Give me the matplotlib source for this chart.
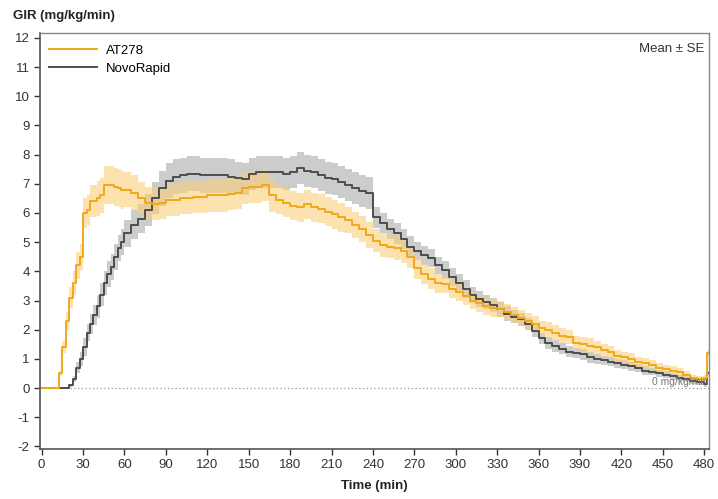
import numpy as np
import matplotlib
matplotlib.use("Agg")
import matplotlib.pyplot as plt

plt.rcParams['font.family'] = ['Liberation Sans', 'DejaVu Sans']
plt.rcParams['axes.unicode_minus'] = False

# time grid (min): 2.5-min steps during the onset, 5-min steps after
time_min = [i * 2.5 for i in range(24)] + list(range(60, 485, 5))

at278_mean = [0, 0, 0, 0, 0, 0.5, 1.4, 2.3, 3.1, 3.6,
              4.2, 4.5, 6.0, 6.1, 6.4, 6.4, 6.5, 6.6, 6.95, 6.95,
              6.95, 6.9, 6.85, 6.8,
              6.8, 6.7, 6.5, 6.35, 6.3, 6.35, 6.45, 6.45,
              6.5, 6.5, 6.55, 6.55, 6.6, 6.6, 6.6, 6.65, 6.7, 6.85,
              6.9, 6.9, 6.95, 6.6, 6.45, 6.35, 6.25, 6.2, 6.3, 6.2,
              6.15, 6.05, 5.95, 5.85, 5.75, 5.6, 5.45, 5.25, 5.05, 4.9,
              4.85, 4.8, 4.7, 4.5, 4.1, 3.9, 3.75, 3.6, 3.55, 3.4,
              3.3, 3.15, 3.0, 2.9, 2.8, 2.75, 2.7, 2.6, 2.5, 2.4,
              2.3, 2.2, 2.05, 2.0, 1.9, 1.8, 1.75, 1.55, 1.5, 1.45,
              1.4, 1.3, 1.25, 1.1, 1.05, 1.0, 0.9, 0.85, 0.8, 0.7,
              0.65, 0.6, 0.55, 0.45, 0.35, 0.3, 0.35]
at278_se = [0, 0, 0, 0, 0, 0.1, 0.2, 0.3, 0.35, 0.4,
            0.45, 0.45, 0.5, 0.5, 0.55, 0.55, 0.6, 0.6, 0.65, 0.65,
            0.65, 0.65, 0.65, 0.65,
            0.6, 0.6, 0.55, 0.55, 0.55, 0.55, 0.55, 0.55,
            0.55, 0.55, 0.55, 0.55, 0.55, 0.55, 0.55, 0.55, 0.55, 0.55,
            0.55, 0.55, 0.55, 0.55, 0.5, 0.5, 0.5, 0.5, 0.5, 0.5,
            0.5, 0.5, 0.5, 0.5, 0.45, 0.45, 0.45, 0.45, 0.4, 0.4,
            0.4, 0.4, 0.4, 0.4, 0.35, 0.35, 0.35, 0.35, 0.3, 0.3,
            0.3, 0.3, 0.3, 0.3, 0.3, 0.3, 0.28, 0.28, 0.28, 0.28,
            0.26, 0.26, 0.25, 0.25, 0.25, 0.25, 0.25, 0.25, 0.25, 0.25,
            0.22, 0.22, 0.2, 0.2, 0.2, 0.2, 0.18, 0.18, 0.16, 0.16,
            0.14, 0.14, 0.12, 0.12, 0.1, 0.1, 0.1]

novo_mean = [0, 0, 0, 0, 0, 0, 0, 0, 0.1, 0.3,
             0.7, 1.0, 1.4, 1.9, 2.2, 2.5, 2.8, 3.2, 3.6, 3.9,
             4.15, 4.5, 4.8, 5.0,
             5.3, 5.6, 5.8, 6.1, 6.5, 6.85, 7.1, 7.25,
             7.3, 7.35, 7.35, 7.3, 7.3, 7.3, 7.3, 7.25, 7.2, 7.15,
             7.35, 7.4, 7.4, 7.4, 7.4, 7.35, 7.4, 7.55, 7.45, 7.4,
             7.3, 7.2, 7.15, 7.05, 6.95, 6.85, 6.75, 6.7, 5.85, 5.65,
             5.45, 5.3, 5.1, 4.85, 4.7, 4.55, 4.45, 4.2, 4.05, 3.8,
             3.6, 3.4, 3.2, 3.05, 2.95, 2.85, 2.7, 2.55, 2.45, 2.35,
             2.2, 1.95, 1.7, 1.55, 1.45, 1.35, 1.25, 1.2, 1.15, 1.05,
             1.0, 0.95, 0.9, 0.85, 0.8, 0.75, 0.7, 0.6, 0.55, 0.5,
             0.45, 0.4, 0.35, 0.3, 0.25, 0.2, 0.15]
novo_se = [0, 0, 0, 0, 0, 0, 0, 0, 0.05, 0.1,
           0.2, 0.25, 0.3, 0.3, 0.35, 0.35, 0.4, 0.4, 0.4, 0.45,
           0.45, 0.45, 0.45, 0.45,
           0.45, 0.5, 0.5, 0.55, 0.55, 0.6, 0.6, 0.6,
           0.6, 0.6, 0.6, 0.6, 0.6, 0.6, 0.6, 0.6, 0.55, 0.55,
           0.55, 0.55, 0.55, 0.55, 0.55, 0.55, 0.55, 0.55, 0.55, 0.55,
           0.55, 0.55, 0.55, 0.55, 0.55, 0.55, 0.55, 0.55, 0.35, 0.35,
           0.35, 0.35, 0.35, 0.35, 0.32, 0.32, 0.3, 0.3, 0.3, 0.3,
           0.3, 0.3, 0.28, 0.28, 0.25, 0.25, 0.25, 0.25, 0.22, 0.22,
           0.2, 0.2, 0.2, 0.2, 0.2, 0.2, 0.18, 0.18, 0.18, 0.18,
           0.16, 0.16, 0.15, 0.15, 0.15, 0.15, 0.14, 0.14, 0.12, 0.12,
           0.12, 0.12, 0.1, 0.1, 0.1, 0.1, 0.1]

# last sample just past 480 min
end_t = 482
at278_end = 1.2
novo_end = 0.5

x_ticks = list(range(0, 481, 30))
y_ticks = list(range(-2, 13))

ORANGE = '#F2A818'
ORANGE_FILL = '#F9CF7A'
GREY = '#4D4D4D'
GREY_FILL = '#9A9A9A'


def series(mean, se, last):
    t = np.array(time_min + [end_t, 490], dtype=float)
    m = np.array(mean + [last, last], dtype=float)
    s = np.array(se + [se[-1], se[-1]], dtype=float)
    return t, m, s


fig = plt.figure(figsize=(7.18, 4.99), dpi=100)
ax = fig.add_axes([0.0557, 0.1002, 0.9318, 0.8337])

for mean, se, last, col, fcol, falpha, name in [
        (novo_mean, novo_se, novo_end, GREY, GREY_FILL, 0.5, 'NovoRapid'),
        (at278_mean, at278_se, at278_end, ORANGE, ORANGE_FILL, 0.6, 'AT278')]:
    t, m, s = series(mean, se, last)
    ax.fill_between(t, m - s, m + s, step='post', color=fcol, alpha=falpha,
                    linewidth=0)
    ax.step(t, m, where='post', color=col, lw=1.4, label=name)

ax.axhline(0, color='#999999', lw=0.9, ls=(0, (1, 2)), zorder=0)
ax.text(483, 0.05, '0 mg/kg/min', color='#777777', fontsize=7.5,
        ha='right', va='bottom')

ax.set_xlim(-1.2, 483.5)
ax.set_ylim(-2.09, 12.17)
ax.set_xticks(x_ticks)
ax.set_yticks(y_ticks)
ax.tick_params(labelsize=9.5, colors='#333333', length=4, width=1,
               direction='out')
for side in ['left', 'bottom']:
    ax.spines[side].set_color('#555555')
    ax.spines[side].set_linewidth(1.2)
for side in ['top', 'right']:
    ax.spines[side].set_color('#888888')
    ax.spines[side].set_linewidth(1.0)

handles, labels = ax.get_legend_handles_labels()
ax.legend(handles[::-1], labels[::-1], loc='upper left', frameon=False,
          fontsize=9.5, handlelength=3.6, handletextpad=0.7,
          borderaxespad=0.3, labelspacing=0.45, bbox_to_anchor=(0.0, 0.995))

ax.text(0.993, 0.975, 'Mean ± SE', transform=ax.transAxes, ha='right',
        va='top', fontsize=9.5, color='#333333')

fig.text(0.018, 0.968, 'GIR (mg/kg/min)', fontsize=9.5, fontweight='bold',
         va='center', ha='left', color='#222222')
ax.set_xlabel('Time (min)', fontsize=9.5, fontweight='bold', color='#222222',
              labelpad=6)

fig.savefig('out.png', dpi=100)
